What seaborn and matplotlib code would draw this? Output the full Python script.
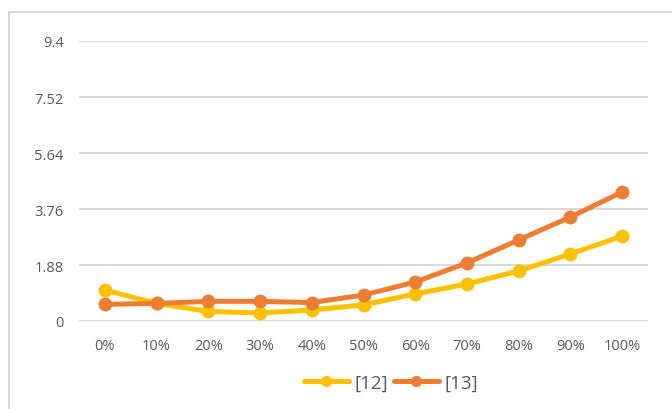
import pandas as pd
import matplotlib
matplotlib.use("Agg")
import matplotlib.pyplot as plt
import seaborn as sns
from matplotlib.patches import Rectangle

# data
categories = ["0%", "10%", "20%", "30%", "40%", "50%", "60%", "70%", "80%", "90%", "100%"]
series_12 = [1.04, 0.59, 0.32, 0.27, 0.37, 0.54, 0.91, 1.24, 1.68, 2.25, 2.85]
series_13 = [0.56, 0.59, 0.66, 0.66, 0.62, 0.87, 1.31, 1.95, 2.72, 3.49, 4.33]
y_ticks = [0, 1.88, 3.76, 5.64, 7.52, 9.4]
y_tick_labels = ["0", "1.88", "3.76", "5.64", "7.52", "9.4"]

df = pd.DataFrame({
    "x": categories * 2,
    "value": series_12 + series_13,
    "series": ["[12]"] * len(categories) + ["[13]"] * len(categories),
})

sns.set_theme(style="white")
plt.rcParams["font.family"] = ["Open Sans", "DejaVu Sans"]

fig = plt.figure(figsize=(6.72, 4.10), dpi=100)
fig.patch.set_facecolor("white")
# chart frame border
fig.patches.append(Rectangle((9 / 672, -0.1), 1.0, 1.1 - 13 / 410, transform=fig.transFigure,
                             fill=False, edgecolor="#d9d9d9", linewidth=1.5))

ax = fig.add_axes([79 / 672, 88 / 410, 569 / 672, 280 / 410])
ax.set_facecolor("white")

palette = {"[12]": "#FFC000", "[13]": "#ED7D31"}
sns.lineplot(data=df, x="x", y="value", hue="series", palette=palette, sort=False,
             marker="o", markersize=10, markeredgewidth=0, linewidth=3.6, ax=ax)

ax.set_ylim(0, 9.4)
ax.set_xlim(-0.5, len(categories) - 0.5)
ax.set_yticks(y_ticks)
ax.set_yticklabels(y_tick_labels)
ax.yaxis.grid(True, color="#d9d9d9", linewidth=1.5)
ax.set_axisbelow(True)
for s in ax.spines.values():
    s.set_visible(False)
ax.tick_params(axis="both", length=0, labelsize=10.5, colors="#595959")
ax.tick_params(axis="y", pad=11)
ax.tick_params(axis="x", pad=12)
ax.set_xlabel("")
ax.set_ylabel("")

leg = ax.legend(loc="center", bbox_to_anchor=(0.548, -0.22), ncol=2, frameon=False,
                fontsize=13.5, handlelength=2.4, columnspacing=0.3, handletextpad=0.3,
                labelcolor="#595959")
for line in leg.get_lines():
    line.set_linewidth(3.6)
    line.set_markersize(8)

fig.savefig("out.png", dpi=100)
